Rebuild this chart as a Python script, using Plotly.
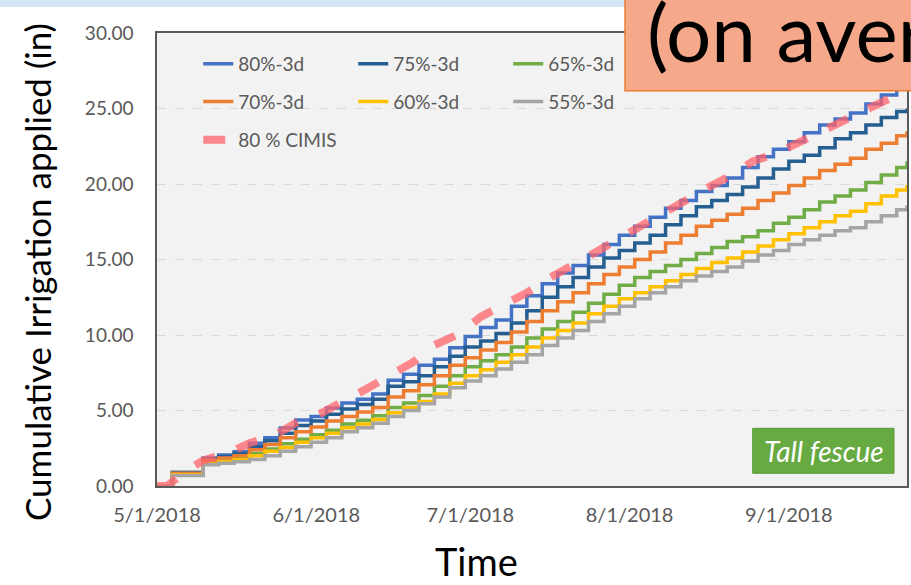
import plotly.graph_objects as go
import pandas as pd

# ---- data -------------------------------------------------------------
START = "2018-05-01"
# 3-day irrigation events (day offsets from 5/1/2018) plus the last day shown
STEP_DAYS = list(range(0, 145, 3)) + [146]

S80 = [0, 0.9, 0.9, 1.85, 2.05, 2.27, 2.83, 3.2, 3.84, 4.37, 4.6, 5.16, 5.5, 5.75, 6.1,
       7.0, 7.4, 8.0, 8.4, 9.15, 9.9, 10.5, 11.0, 11.9, 12.6, 13.4, 14.1, 14.6, 15.3,
       16.0, 16.6, 17.2, 17.8, 18.4, 18.9, 19.5, 19.9, 20.4, 21.1, 21.8, 22.3, 22.8,
       23.4, 23.9, 24.3, 24.7, 25.3, 25.9, 26.3, 26.6]
S75 = [0, 0.9, 0.9, 1.8, 1.95, 2.15, 2.6, 3.0, 3.5, 4.0, 4.3, 4.75, 5.1, 5.4, 5.75,
       6.6, 6.9, 7.3, 7.9, 8.6, 9.2, 9.6, 10.1, 10.8, 11.6, 12.5, 13.2, 13.8, 14.5,
       15.1, 15.6, 16.1, 16.6, 17.3, 17.9, 18.5, 18.9, 19.3, 19.8, 20.4, 21.0, 21.5,
       21.9, 22.4, 23.0, 23.4, 23.9, 24.4, 24.8, 25.0]
S70 = [0, 0.85, 0.85, 1.7, 1.85, 2.0, 2.4, 2.75, 3.2, 3.6, 3.9, 4.3, 4.6, 4.9, 5.2,
       5.9, 6.3, 6.7, 7.3, 8.0, 8.5, 9.0, 9.5, 10.2, 10.9, 11.6, 12.2, 12.8, 13.4,
       14.0, 14.5, 15.0, 15.5, 16.1, 16.6, 17.2, 17.6, 18.0, 18.4, 18.9, 19.4, 19.9,
       20.4, 20.9, 21.3, 21.7, 22.3, 22.7, 23.2, 23.5]
S65 = [0, 0.8, 0.8, 1.6, 1.7, 1.85, 2.15, 2.45, 2.8, 3.1, 3.4, 3.7, 4.1, 4.35, 4.65,
       5.2, 5.5, 6.0, 6.6, 7.3, 7.9, 8.3, 8.7, 9.2, 9.8, 10.4, 10.9, 11.5, 12.1,
       12.7, 13.3, 13.8, 14.2, 14.6, 15.0, 15.4, 15.8, 16.2, 16.5, 16.9, 17.4, 17.8,
       18.3, 18.8, 19.2, 19.6, 20.1, 20.6, 21.1, 21.5]
S60 = [0, 0.75, 0.75, 1.45, 1.6, 1.75, 2.0, 2.3, 2.55, 2.9, 3.2, 3.5, 3.85, 4.1, 4.4,
       4.85, 5.2, 5.6, 6.1, 6.8, 7.3, 7.7, 8.2, 8.7, 9.2, 9.8, 10.3, 10.8, 11.4,
       11.9, 12.4, 12.8, 13.2, 13.6, 14.0, 14.4, 14.8, 15.1, 15.5, 15.9, 16.3, 16.7,
       17.1, 17.5, 17.9, 18.2, 18.7, 19.2, 19.6, 19.95]
S55 = [0, 0.7, 0.7, 1.4, 1.5, 1.6, 1.75, 2.0, 2.3, 2.6, 2.9, 3.2, 3.6, 3.85, 4.15,
       4.6, 5.0, 5.45, 5.9, 6.5, 6.95, 7.3, 7.75, 8.2, 8.7, 9.3, 9.8, 10.3, 10.9,
       11.4, 11.9, 12.4, 12.8, 13.2, 13.6, 13.9, 14.2, 14.5, 14.9, 15.3, 15.6, 16.0,
       16.3, 16.6, 16.9, 17.1, 17.5, 17.9, 18.3, 18.6]

CIMIS_DAYS = [0, 2, 5, 9, 14, 18, 23, 27, 32, 37, 41, 46, 50, 54, 59, 63, 67, 72, 76,
              81, 85, 90, 94, 99, 103, 108, 112, 116, 121, 126, 130, 135, 139, 144, 146]
CIMIS = [0, 0, 0.85, 1.7, 2.2, 2.83, 3.38, 4.17, 4.83, 5.7, 6.47, 7.46, 8.23, 9.34,
         10.1, 11.2, 11.9, 12.8, 13.7, 14.6, 15.4, 16.4, 17.2, 18.2, 19.0, 19.9, 20.6,
         21.5, 22.1, 22.9, 23.6, 24.4, 25.1, 25.9, 26.3]

TICK_DATES = ["2018-05-01", "2018-06-01", "2018-07-01", "2018-08-01", "2018-09-01"]
TICK_TEXT = ["5/1/2018", "6/1/2018", "7/1/2018", "8/1/2018", "9/1/2018"]
X_RANGE = ["2018-05-01", "2018-09-24"]

# ---- figure -----------------------------------------------------------
start = pd.Timestamp(START)
step_x = [start + pd.Timedelta(days=d) for d in STEP_DAYS]
cimis_x = [start + pd.Timedelta(days=d) for d in CIMIS_DAYS]

FONT = "Lato, 'Liberation Sans', Arial, sans-serif"
fig = go.Figure()

series = [
    ("80%-3d", S80, "#4472C4", "legend"),
    ("75%-3d", S75, "#255E91", "legend"),
    ("65%-3d", S65, "#70AD47", "legend"),
    ("70%-3d", S70, "#ED7D31", "legend2"),
    ("60%-3d", S60, "#FFC000", "legend2"),
    ("55%-3d", S55, "#A5A5A5", "legend2"),
]
for name, ys, col, lg in series:
    fig.add_trace(go.Scatter(x=step_x, y=ys, name=name, mode="lines",
                             line=dict(color=col, width=3.5, shape="hv"),
                             legend=lg))

fig.add_trace(go.Scatter(x=cimis_x, y=CIMIS, name="80 % CIMIS", mode="lines",
                         line=dict(color="rgba(255,100,108,0.75)", width=8,
                                   dash="22px,23px"),
                         legend="legend3"))

leg_common = dict(orientation="h", xanchor="left", yanchor="middle",
                  entrywidth=110, entrywidthmode="pixels",
                  bgcolor="rgba(0,0,0,0)", font=dict(family=FONT, size=19, color="#595959"),
                  itemclick=False, itemdoubleclick=False)

fig.update_layout(
    width=911, height=585,
    margin=dict(l=157, r=4, t=33, b=99),
    paper_bgcolor="white", plot_bgcolor="#F2F2F2",
    font=dict(family=FONT, color="#595959"),
    legend=dict(x=0.055, y=(486 - 64) / 453, **leg_common),
    legend2=dict(x=0.055, y=(486 - 101.7) / 453, **leg_common),
    legend3=dict(x=0.055, y=(486 - 140) / 453, **leg_common),
    xaxis=dict(type="date", range=X_RANGE, tickvals=TICK_DATES, ticktext=TICK_TEXT,
               showgrid=False, zeroline=False, showline=True, mirror=True,
               linecolor="#595959", linewidth=1.5, ticks="", automargin=False,
               tickfont=dict(family=FONT, size=20, color="#595959"),
               ticklabelstandoff=10),
    yaxis=dict(range=[0, 30], dtick=5, tickformat=".2f",
               showgrid=True, gridcolor="#D9D9D9", griddash="dash", gridwidth=1,
               zeroline=False, showline=True, mirror=True, automargin=False,
               linecolor="#595959", linewidth=1.5, ticks="",
               tickfont=dict(family=FONT, size=19, color="#595959"),
               ticklabelstandoff=18),
)

# axis titles (placed as on the slide, not centred on the plot area)
fig.add_annotation(xref="paper", yref="paper", x=(37 - 157) / 750, y=(486 - 272) / 453,
                   xanchor="center", yanchor="middle", showarrow=False, textangle=-90,
                   text="Cumulative Irrigation applied (in)",
                   font=dict(family=FONT, size=35, color="black"))
fig.add_annotation(xref="paper", yref="paper", x=(476 - 157) / 750, y=(486 - 561) / 453,
                   xanchor="center", yanchor="middle", showarrow=False,
                   text="Time", font=dict(family=FONT, size=38, color="black"))

# slide decoration: top band
fig.add_shape(type="rect", xref="paper", yref="paper",
              x0=-0.3, x1=1.1, y0=(486 - 7) / 453, y1=1.2,
              fillcolor="#D6E5F4", line=dict(width=0), layer="above")

# "(on average)" title box, cut off at the right edge as on the slide
fig.add_shape(type="rect", xref="paper", yref="paper",
              x0=(625 - 157) / 750, x1=1.02, y0=(486 - 90.7) / 453, y1=1.2,
              fillcolor="#F5A98A", line=dict(color="#ED7D31", width=1.5), layer="above")
fig.add_annotation(xref="paper", yref="paper", x=(645 - 157) / 750, y=(486 - 31) / 453,
                   xanchor="left", yanchor="middle", showarrow=False,
                   text="(on average)", font=dict(family=FONT, size=80, color="black"))

# "Tall fescue" label
fig.add_shape(type="rect", xref="paper", yref="paper",
              x0=(752.7 - 157) / 750, x1=(894 - 157) / 750,
              y0=(486 - 473.3) / 453, y1=(486 - 428.3) / 453,
              fillcolor="#68AA42", line=dict(color="#5B9A38", width=1), layer="above")
fig.add_annotation(xref="paper", yref="paper", x=(824 - 157) / 750, y=(486 - 451) / 453,
                   xanchor="center", yanchor="middle", showarrow=False,
                   text="<i>Tall fescue</i>", font=dict(family=FONT, size=28, color="white"))

fig.write_html("out.html", config={"displayModeBar": False},
               post_script="document.body.style.margin='0';")
